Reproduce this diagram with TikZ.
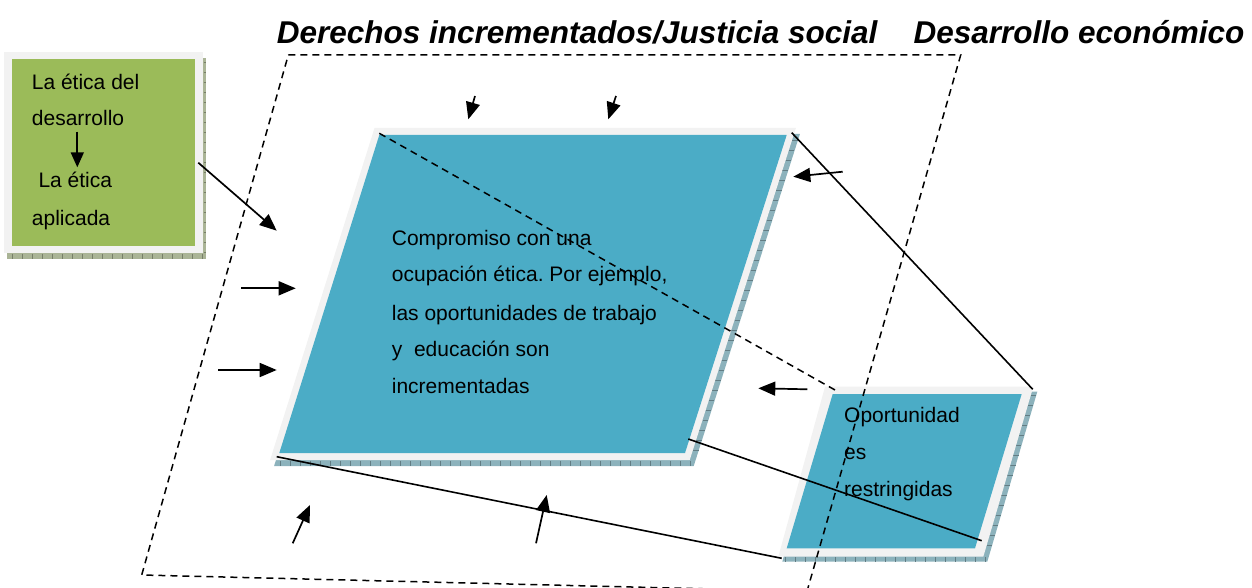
\documentclass[tikz,border=0pt]{standalone}
\usepackage{fontspec}
\setmainfont{Liberation Sans}
\usetikzlibrary{arrows.meta}
\frenchspacing
\definecolor{aquafill}{RGB}{75,172,198}
\definecolor{greenfill}{RGB}{155,187,89}
\definecolor{framegray}{RGB}{242,242,242}
\definecolor{blueshadow}{RGB}{140,178,188}
\definecolor{greenshadow}{RGB}{170,180,150}
\begin{document}
\begin{tikzpicture}[x=1pt,y=-1pt,
  arr/.style={line width=1.7pt,-{Triangle[length=17pt,width=14pt]}},
  dsh/.style={line width=1.5pt,dash pattern=on 7pt off 5pt},
  link/.style={line width=1.6pt},
  txt/.style={anchor=base west,inner sep=0pt,font=\fontsize{21}{25}\selectfont},
  ttl/.style={anchor=base west,inner sep=0pt,font=\fontsize{31.5}{36}\selectfont\bfseries\itshape},
  btick/.style={draw=blueshadow!70!black,line width=0.4pt},
  gtick/.style={draw=greenshadow!70!black,line width=0.4pt}]
\useasboundingbox (0,0) rectangle (1252,588);

% ---------- green box ----------
\fill[greenshadow] (7,58) rectangle (206,259);
\foreach \x in {12,22,...,202} \draw[gtick] (\x,253.5) -- (\x,259);
\foreach \y in {62,72,...,252} \draw[gtick] (203.5,\y) -- (206,\y);
\fill[framegray] (4,52) rectangle (203,253);
\fill[greenfill] (12,59) rectangle (195,246);

% ---------- main box ----------
\coordinate (mF1) at (374.5,128);
\coordinate (mF2) at (795.9,128);
\coordinate (mF3) at (689.7,460);
\coordinate (mF4) at (270.1,460);
\fill[blueshadow] ([shift={(4,6)}]mF1) -- ([shift={(4,6)}]mF2) -- ([shift={(4,6)}]mF3) -- ([shift={(4,6)}]mF4) -- cycle;
\foreach \x in {280,290,...,690} \draw[btick] (\x,460.5) -- (\x,466);
\foreach \y in {140,150,...,455} \draw[btick] ({795.9-0.3196*(\y-128)},\y) -- ++(5.5,0);
\fill[framegray] (mF1) -- (mF2) -- (mF3) -- (mF4) -- cycle;
\coordinate (mI1) at (379.3,135);
\coordinate (mI2) at (786.7,135);
\coordinate (mI3) at (685,453);
\coordinate (mI4) at (279.3,453);
\fill[aquafill] (mI1) -- (mI2) -- (mI3) -- (mI4) -- cycle;

% ---------- small box ----------
\coordinate (sF1) at (825,386.7);
\coordinate (sF2) at (1033.3,386.7);
\coordinate (sF3) at (983.3,556.7);
\coordinate (sF4) at (778.3,556.7);
\fill[blueshadow] ([shift={(4,5)}]sF1) -- ([shift={(4,5)}]sF2) -- ([shift={(4,5)}]sF3) -- ([shift={(4,5)}]sF4) -- cycle;
\foreach \x in {785,795,...,985} \draw[btick] (\x,557.2) -- (\x,561.7);
\foreach \y in {395,405,...,552} \draw[btick] ({1033.3-0.294*(\y-386.7)},\y) -- ++(5.3,0);
\fill[framegray] (sF1) -- (sF2) -- (sF3) -- (sF4) -- cycle;
\fill[aquafill] (832.7,394) -- (1021.7,394) -- (975,548.3) -- (786.7,548.3) -- cycle;

% ---------- outer dashed frame ----------
\coordinate (o1) at (288.3,55);
\coordinate (o2) at (960.7,55);
\coordinate (o3) at (807,591.3);
\coordinate (o4) at (141.7,575);
\begin{scope}
\clip (0,0) rectangle (1252,588);
\draw[dsh] (o1) -- (o2) -- (o3) -- (o4) -- cycle;
\end{scope}

% ---------- connecting lines ----------
\coordinate (dA) at (379.3,133.3);
\coordinate (dB) at (835,390);
\draw[dsh] (dA) -- (dB);
\coordinate (lA) at (791.7,132.7);
\coordinate (lB) at (1032.7,389.3);
\draw[link] (lA) -- (lB);
\coordinate (lC) at (276.7,456.7);
\coordinate (lD) at (781.7,558.3);
\draw[link] (lC) -- (lD);
\coordinate (lE) at (688.3,439);
\coordinate (lF) at (981.7,540.7);
\draw[link] (lE) -- (lF);

% ---------- arrows ----------
\coordinate (a1s) at (198.3,162.7); \coordinate (a1e) at (276.7,230.7);
\coordinate (a2s) at (475,96);      \coordinate (a2e) at (468.3,119.3);
\coordinate (a3s) at (616,96);      \coordinate (a3e) at (608.3,119.3);
\coordinate (a4s) at (842.7,171.7); \coordinate (a4e) at (793.3,176.7);
\coordinate (a5s) at (241,288.3);   \coordinate (a5e) at (295.7,288.3);
\coordinate (a6s) at (218.3,370);   \coordinate (a6e) at (276.7,370);
\coordinate (a7s) at (807.3,389.3); \coordinate (a7e) at (758.3,388.3);
\coordinate (a8s) at (292.7,543.3); \coordinate (a8e) at (310,505);
\coordinate (a9s) at (536,543.3);   \coordinate (a9e) at (546.7,495);
\foreach \i in {1,...,9} \draw[arr] (a\i s) -- (a\i e);

% ---------- titles ----------
\node[ttl] (title1) at (276.7,43.3) {Derechos incrementados/Justicia social};
\node[ttl] (title2) at (913.3,43.3) {Desarrollo económico};

% ---------- green box text ----------
\node[txt] (g1) at (31.7,89.3) {La ética del};
\node[txt] (g2) at (31.7,126) {desarrollo};
\node[txt] (g3) at (38.3,187.3) {La ética};
\node[txt] (g4) at (31.7,225) {aplicada};
\coordinate (gaS) at (77.3,131.7);
\coordinate (gaE) at (77.3,167.3);
\draw[line width=1.7pt,-{Triangle[length=15pt,width=13pt]}] (gaS) -- (gaE);

% ---------- main box text ----------
\node[txt] (m1) at (391.7,245) {Compromiso con una};
\node[txt] (m2) at (391.7,281.7) {ocupación ética. Por ejemplo,};
\node[txt] (m3) at (391.7,320) {las oportunidades de trabajo};
\node[txt] (m4) at (391.7,356.7) {y~~educación son};
\node[txt] (m5) at (391.7,393.3) {incrementadas};

% ---------- small box text ----------
\node[txt] (s1) at (844,422.7) {Oportunidad};
\node[txt] (s2) at (844,459.3) {es};
\node[txt] (s3) at (844,496) {restringidas};
\end{tikzpicture}
\end{document}
